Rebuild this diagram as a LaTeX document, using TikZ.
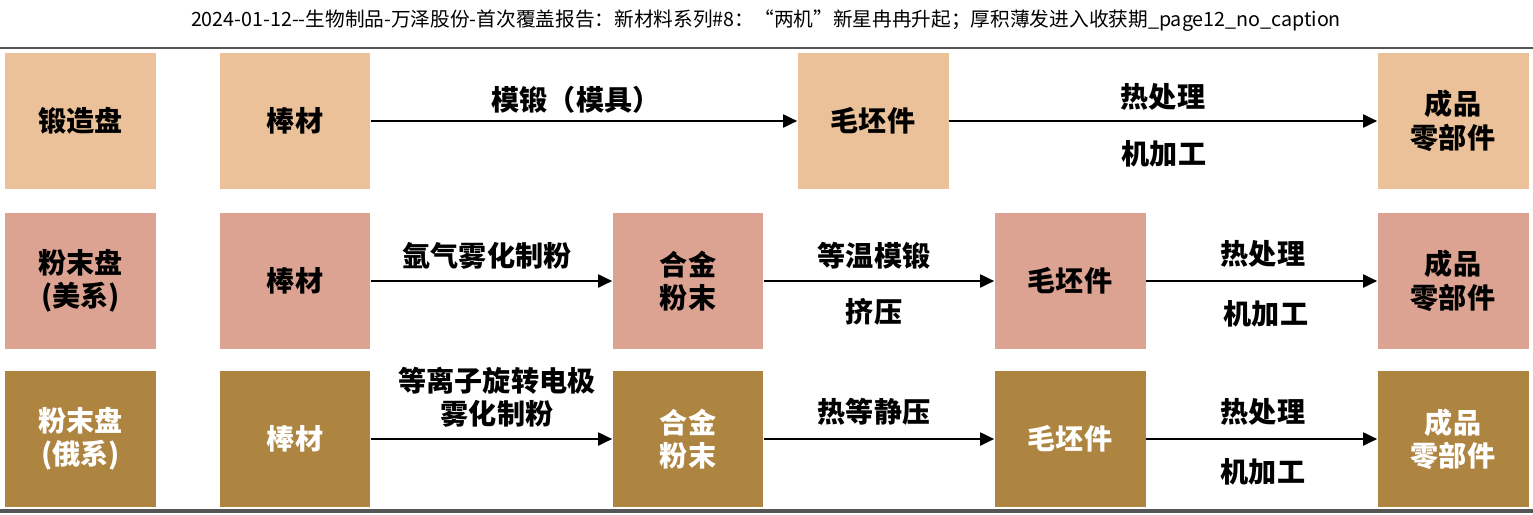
\documentclass[tikz,border=0pt]{standalone}
\usepackage{fontspec}
\setmainfont{Noto Sans CJK SC}
\usepackage{tikz}
\usetikzlibrary{
arrows.meta,
positioning
}
\definecolor{ForgeTan}{HTML}{EAC198}
\definecolor{PowderRose}{HTML}{DCA392}
\definecolor{PowderBrown}{HTML}{AE8441}
\definecolor{RuleGray}{HTML}{555555}

\begin{document}
\begin{tikzpicture}[x=0.02cm, y=-0.02cm,
    every node/.style={font=\bfseries\fontsize{16}{19}\selectfont},
    stagebox/.style={minimum width=3.02cm, minimum height=2.74cm, inner sep=0pt, align=center},
    forgebox/.style={stagebox, fill=ForgeTan},
    rosebox/.style={stagebox, fill=PowderRose},
    brownbox/.style={stagebox, fill=PowderBrown, text=white},
    flow/.style={line width=1.1pt, -{Triangle[length=2.8mm, width=2.6mm]}},
    steplabel/.style={align=center, inner sep=1pt}]
    \useasboundingbox (0,0) rectangle (1533,514);

    % header and rules
    \node[font=\fontsize{11.2}{13}\selectfont] (title) at (766,21) {2024-01-12-{}-生物制品-万泽股份-首次覆盖报告：新材料系列\#8：“两机”新星冉冉升起；厚积薄发进入收获期\_page12\_no\_caption};
    \draw[line width=1.6pt, RuleGray] (0,48) -- (1533,48);
    \draw[line width=2.2pt, RuleGray] (0,511) -- (1533,511);

    % row 1: forged disc
    \node[forgebox] (kind1) at (80.5,121) {锻造盘};
    \node[forgebox] (bar1) at (295,121) {棒材};
    \node[forgebox] (blank1) at (873,121) {毛坯件};
    \node[forgebox] (part1) at (1453,121) {成品\\零部件};
    \draw[flow] (bar1) -- (blank1);
    \draw[flow] (blank1) -- (part1);
    \node[steplabel] (die1) at (576,100) {模锻（模具）};
    \node[steplabel] (heat1) at (1163,97) {热处理};
    \node[steplabel] (mach1) at (1164,154) {机加工};

    % row 2: powder disc, US route
    \node[rosebox] (kind2) at (80.5,281) {粉末盘\\(美系)};
    \node[rosebox] (bar2) at (295,281) {棒材};
    \node[rosebox] (alloy2) at (688,281) {合金\\粉末};
    \node[rosebox] (blank2) at (1070,281) {毛坯件};
    \node[rosebox] (part2) at (1453,281) {成品\\零部件};
    \draw[flow] (bar2) -- (alloy2);
    \draw[flow] (alloy2) -- (blank2);
    \draw[flow] (blank2) -- (part2);
    \node[steplabel] (atom2) at (487,256) {氩气雾化制粉};
    \node[steplabel] (iso2) at (874,256) {等温模锻};
    \node[steplabel] (ext2) at (874,312) {挤压};
    \node[steplabel] (heat2) at (1263,254) {热处理};
    \node[steplabel] (mach2) at (1266,314) {机加工};

    % row 3: powder disc, Russian route
    \node[brownbox] (kind3) at (80.5,439) {粉末盘\\(俄系)};
    \node[brownbox] (bar3) at (295,439) {棒材};
    \node[brownbox] (alloy3) at (688,439) {合金\\粉末};
    \node[brownbox] (blank3) at (1070,439) {毛坯件};
    \node[brownbox] (part3) at (1453,439) {成品\\零部件};
    \draw[flow] (bar3) -- (alloy3);
    \draw[flow] (alloy3) -- (blank3);
    \draw[flow] (blank3) -- (part3);
    \node[steplabel] (atom3) at (497,397) {等离子旋转电极\\雾化制粉};
    \node[steplabel] (hip3) at (874,412) {热等静压};
    \node[steplabel] (heat3) at (1263,412) {热处理};
    \node[steplabel] (mach3) at (1263,472) {机加工};
\end{tikzpicture}
\end{document}
